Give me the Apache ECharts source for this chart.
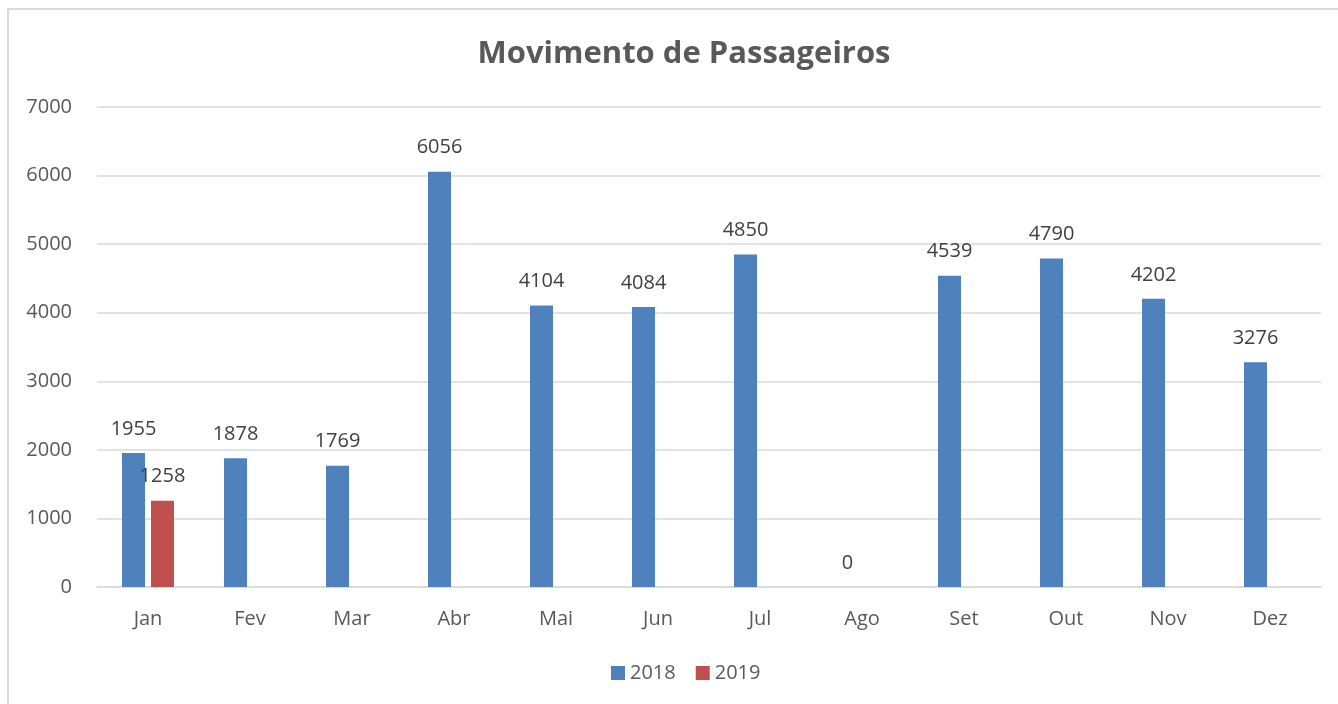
<!DOCTYPE html>
<html>
<head>
<meta charset="utf-8">
<script src="https://cdn.jsdelivr.net/npm/echarts@6/dist/echarts.min.js"></script>
<style>
  html, body { margin: 0; padding: 0; background: #fff; overflow: hidden; }
  #frame { position: absolute; left: 7px; top: 8px; width: 1400px; height: 800px; border: 2px solid #d9d9d9; box-sizing: border-box; }
  #chart { position: absolute; left: 0; top: 0; width: 1338px; height: 704px; }
</style>
</head>
<body>
<div id="frame"></div>
<div id="chart"></div>
<script>
// 月份与数据
const months = ['Jan', 'Fev', 'Mar', 'Abr', 'Mai', 'Jun', 'Jul', 'Ago', 'Set', 'Out', 'Nov', 'Dez'];
const values2018 = [1955, 1878, 1769, 6056, 4104, 4084, 4850, 0, 4539, 4790, 4202, 3276];
const values2019 = [1258, null, null, null, null, null, null, null, null, null, null, null];
const yTicks = { min: 0, max: 7000, interval: 1000 };

const font = 'Open Sans, Liberation Sans, sans-serif';
const chart = echarts.init(document.getElementById('chart'));

const labelStyle = {
  show: true,
  position: 'top',
  distance: 14,
  fontFamily: font,
  fontSize: 20,
  color: '#404040'
};

chart.setOption({
  animation: false,
  title: {
    text: 'Movimento de Passageiros',
    left: 679,
    textAlign: 'center',
    top: 34,
    textStyle: { fontFamily: font, fontSize: 31, fontWeight: 'bold', color: '#595959' }
  },
  legend: {
    bottom: 16,
    left: 606,
    itemWidth: 14,
    itemHeight: 14,
    itemGap: 20,
    icon: 'rect',
    textStyle: { fontFamily: font, fontSize: 20, color: '#595959' },
    data: ['2018', '2019']
  },
  grid: { left: 97, right: 17, top: 107, height: 480, containLabel: false },
  xAxis: {
    type: 'category',
    data: months,
    axisTick: { show: false },
    axisLine: { lineStyle: { color: '#d9d9d9', width: 1.5 } },
    axisLabel: { fontFamily: font, fontSize: 20, color: '#595959', margin: 22 }
  },
  yAxis: {
    type: 'value',
    min: yTicks.min,
    max: yTicks.max,
    interval: yTicks.interval,
    axisLine: { show: false },
    axisTick: { show: false },
    splitLine: { lineStyle: { color: '#d9d9d9', width: 1.5 } },
    axisLabel: { fontFamily: font, fontSize: 20, color: '#595959', margin: 25, formatter: v => String(v) }
  },
  series: [
    {
      name: '2018',
      type: 'bar',
      data: values2018,
      barWidth: 23,
      barGap: '26%',
      itemStyle: { color: '#4F81BD' },
      label: labelStyle
    },
    {
      name: '2019',
      type: 'bar',
      data: values2019,
      barWidth: 23,
      itemStyle: { color: '#C0504D' },
      label: labelStyle
    }
  ]
});
</script>
</body>
</html>
